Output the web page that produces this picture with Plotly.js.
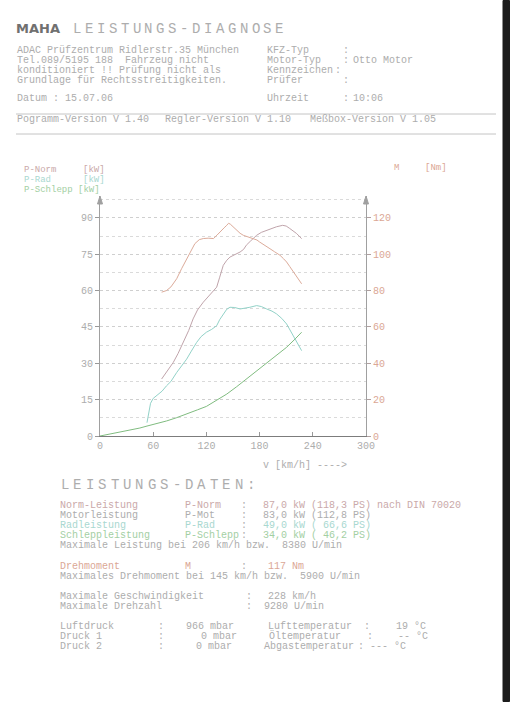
<!DOCTYPE html>
<html>
<head>
<meta charset="utf-8">
<script src="https://cdn.plot.ly/plotly-3.0.1.min.js"></script>
<style>html,body{margin:0;padding:0;background:#fff;overflow:hidden;}#chart{width:510px;height:702px;}</style>
</head>
<body>
<div id="chart"></div>
<script>
// ---- data ----
const xTickVals = [0, 60, 120, 180, 240, 300];
const xTickText = ['0', '60', '120', '180', '240', '300'];

const vNorm = [69.5, 76, 82.7, 88, 94, 100, 105, 110, 116.5, 122, 127, 131.6, 135, 139, 143, 146.6, 152, 158, 162, 165, 170, 176.7, 182, 188, 194, 199, 206, 210, 214, 218, 221.8, 227.4];
const pNorm = [23.5, 27, 30.4, 34, 38.6, 43.5, 48.3, 52, 55.2, 57.5, 59.5, 61.4, 65.5, 70.4, 72.5, 73.8, 74.8, 75.9, 77, 78.7, 80.5, 82.8, 84, 84.9, 85.8, 86.3, 86.9, 86.6, 85.6, 84.6, 83.5, 81.4];

const vRad = [53, 55, 57, 60, 64, 70, 75, 80, 86.5, 92, 97.7, 103, 109, 114, 120, 126, 131.6, 135, 139, 143, 146.6, 152, 158, 163, 169, 176.7, 182, 188, 194, 199, 205, 210.5, 214, 218, 222, 227.4];
const pRad = [5.5, 10, 13.5, 15.5, 16.6, 18.5, 20.7, 22.5, 26.2, 29, 31.7, 35, 38.6, 41, 42.8, 44, 45.5, 48, 50.4, 52.3, 53.1, 53, 52.4, 52.6, 53.1, 53.8, 53.4, 52.4, 51.5, 50.4, 48.5, 46.2, 44, 41.4, 38.6, 35.2];

const vSchlepp = [0, 15, 30, 45, 53, 65, 75, 86, 97.7, 110, 120, 132, 143, 154, 165, 177, 188, 199, 210.5, 220, 227.4];
const pSchlepp = [0, 1, 2.1, 3.3, 4.1, 5.2, 6.2, 7.5, 9.0, 10.8, 12.2, 14.7, 17.3, 20.3, 23.5, 27, 30.4, 33.5, 36.6, 40, 42.8];

const vTorque = [69.5, 75, 80, 86.5, 92, 97.7, 103, 107, 112, 116.5, 122, 128, 132, 135, 140, 143, 145, 147, 150, 154, 158, 161.6, 167, 172.9, 177, 180, 186, 191.7, 197, 203, 207, 210.5, 214, 218, 222, 227.4];
const mTorque = [79.1, 80, 82, 86.5, 92, 97.5, 102.5, 105.8, 108, 108.6, 108.8, 108.6, 110.5, 112.2, 114.5, 115.9, 117, 116.5, 115, 113.2, 111.5, 110.4, 109.5, 108.9, 107.8, 106.7, 105, 103, 101.3, 99.4, 97.5, 95.7, 93.2, 90.2, 87.2, 83.7];

// ---- styling helpers ----
const W = 510, H = 702;
const px = x => x / W;
const py = y => 1 - y / H;
const FONT = 'Liberation Mono, DejaVu Sans Mono, monospace';
const GRAY = '#adadad';
const PINK = '#caa9a9';
const SALMON = '#dba795';
const TEAL = '#a9d8d0';
const GREEN = '#a3cfa3';

const annotations = [];
function txt(x, y, text, color, size, extra) {
  annotations.push(Object.assign({
    xref: 'paper', yref: 'paper', x: px(x), y: py(y),
    xanchor: 'left', yanchor: 'middle', showarrow: false,
    borderpad: 0,
    text: text.replace(/ /g, '\u00a0'),
    font: {family: FONT, size: size || 10, color: color || GRAY}
  }, extra || {}));
}
function spaced(x, y, str, step, color, size) {
  for (let i = 0; i < str.length; i++) {
    if (str[i] !== ' ') txt(x + i * step, y, str[i], color, size);
  }
}

// header
annotations.push({xref:'paper', yref:'paper', x:px(15), y:py(28), xanchor:'left', yanchor:'middle', showarrow:false, borderpad:0,
  text:'MAHA', font:{family:'DejaVu Sans, sans-serif', size:13, color:'#707070', weight:700}});
spaced(72, 29, 'LEISTUNGS-DIAGNOSE', 11.9, GRAY, 14);

txt(16, 50, 'ADAC Prüfzentrum Ridlerstr.35 München');
txt(16, 60, 'Tel.089/5195 188  Fahrzeug nicht');
txt(16, 70, 'konditioniert !! Prüfung nicht als');
txt(16, 80, 'Grundlage für Rechtsstreitigkeiten.');
txt(266, 50, 'KFZ-Typ'); txt(342, 50, ':');
txt(266, 60, 'Motor-Typ'); txt(342, 60, ':'); txt(352, 60, 'Otto Motor');
txt(266, 70, 'Kennzeichen'); txt(334, 70, ':');
txt(266, 80, 'Prüfer'); txt(342, 80, ':');
txt(16, 99, 'Datum : 15.07.06');
txt(266, 99, 'Uhrzeit'); txt(342, 99, ':'); txt(352, 99, '10:06');
txt(16, 119, 'Pogramm-Version V 1.40');
txt(164, 119, 'Regler-Version V 1.10');
txt(309, 119, 'Meßbox-Version V 1.05');

// chart labels
txt(23, 170, 'P-Norm', PINK, 9); txt(82, 170, '[kW]', PINK, 9);
txt(23, 180, 'P-Rad', TEAL, 9); txt(82, 180, '[kW]', TEAL, 9);
txt(23, 190, 'P-Schlepp [kW]', GREEN, 9);
txt(393, 168, 'M', SALMON, 9); txt(424, 168, '[Nm]', SALMON, 9);
txt(262, 465, 'v [km/h] ---->');

// data block
spaced(60, 485, 'LEISTUNGS-DATEN:', 12.4, GRAY, 14);
const rows = [
  [505, 'Norm-Leistung', 'P-Norm', '87,0 kW (118,3 PS) nach DIN 70020', PINK],
  [515, 'Motorleistung', 'P-Mot', '83,0 kW (112,8 PS)', GRAY],
  [525, 'Radleistung', 'P-Rad', '49,0 kW ( 66,6 PS)', TEAL],
  [535, 'Schleppleistung', 'P-Schlepp', '34,0 kW ( 46,2 PS)', GREEN]
];
rows.forEach(r => {
  txt(59, r[0], r[1], r[4]);
  txt(184, r[0], r[2], r[4]);
  txt(240, r[0], ':', GRAY);
  txt(262, r[0], r[3], r[4]);
});
txt(59, 545, 'Maximale Leistung bei 206 km/h bzw.  8380 U/min');
txt(59, 566, 'Drehmoment', SALMON); txt(184, 566, 'M', SALMON); txt(240, 566, ':'); txt(267, 566, '117 Nm', SALMON);
txt(59, 576, 'Maximales Drehmoment bei 145 km/h bzw.  5900 U/min');
txt(59, 596, 'Maximale Geschwindigkeit'); txt(245, 596, ':'); txt(267, 596, '228 km/h');
txt(59, 606, 'Maximale Drehzahl'); txt(245, 606, ':'); txt(263, 606, '9280 U/min');
txt(59, 626, 'Luftdruck'); txt(157, 626, ':'); txt(185, 626, '966 mbar');
txt(267, 626, 'Lufttemperatur'); txt(363, 626, ':'); txt(395, 626, '19 °C');
txt(59, 636, 'Druck 1'); txt(157, 636, ':'); txt(200, 636, '0 mbar');
txt(268, 636, 'Öltemperatur'); txt(366, 636, ':'); txt(397, 636, '-- °C');
txt(59, 646, 'Druck 2'); txt(157, 646, ':'); txt(195, 646, '0 mbar');
txt(263, 646, 'Abgastemperatur'); txt(357, 646, ':'); txt(369, 646, '--- °C');

const shapes = [
  {type:'line', xref:'paper', yref:'paper', x0:px(16), x1:px(496), y0:py(114), y1:py(114), line:{color:'#c4c4c4', width:1}},
  {type:'line', xref:'paper', yref:'paper', x0:px(16), x1:px(496), y0:py(134), y1:py(134), line:{color:'#c4c4c4', width:1}},
  {type:'path', xref:'paper', yref:'paper', path:`M ${px(97.5)} ${py(204)} L ${px(100)} ${py(196)} L ${px(102.5)} ${py(204)} Z`, fillcolor:'#a0a0a0', line:{color:'#a0a0a0', width:1}},
  {type:'path', xref:'paper', yref:'paper', path:`M ${px(363.5)} ${py(204)} L ${px(366)} ${py(196)} L ${px(368.5)} ${py(204)} Z`, fillcolor:'#a0a0a0', line:{color:'#a0a0a0', width:1}},
  {type:'rect', xref:'paper', yref:'paper', x0:px(503), x1:px(509.5), y0:py(701.5), y1:py(0.5), fillcolor:'#1c1c1c', line:{color:'#1c1c1c', width:1}, layer:'above'}
];

const traces = [
  {x: vSchlepp, y: pSchlepp, type:'scatter', mode:'lines', name:'P-Schlepp', line:{color:'#80bc80', width:1}},
  {x: vRad, y: pRad, type:'scatter', mode:'lines', name:'P-Rad', line:{color:'#92d2c8', width:1}},
  {x: vNorm, y: pNorm, type:'scatter', mode:'lines', name:'P-Norm', line:{color:'#c0a4ab', width:1}},
  {x: vTorque, y: mTorque, type:'scatter', mode:'lines', name:'M', yaxis:'y2', line:{color:'#dcab9a', width:1}}
];

const layout = {
  width: W, height: H,
  margin: {l:0, r:0, t:0, b:0, pad:0},
  paper_bgcolor: '#ffffff', plot_bgcolor: '#ffffff',
  showlegend: false,
  font: {family: FONT, size: 10, color: GRAY},
  xaxis: {
    domain: [px(100), px(366)], range: [0, 300], anchor: 'y',
    tickmode: 'array', tickvals: xTickVals, ticktext: xTickText,
    ticks: 'inside', ticklen: 4, tickcolor: '#999999',
    showline: true, linecolor: '#7c7c7c', linewidth: 1,
    showgrid: false, zeroline: false,
    tickfont: {family: FONT, size: 10, color: GRAY}
  },
  yaxis: {
    domain: [py(436), py(196)], range: [0, 99],
    tickmode: 'linear', tick0: 0, dtick: 15,
    ticks: 'outside', ticklen: 4, tickcolor: '#999999',
    showline: true, linecolor: '#a0a0a0', linewidth: 1,
    showgrid: true, gridcolor: '#cfcfcf', griddash: 'dot', gridwidth: 1,
    minor: {tick0: 0, dtick: 7.5, showgrid: true, gridcolor: '#dadada', griddash: 'dot', ticks: ''},
    zeroline: false,
    tickfont: {family: FONT, size: 10, color: GRAY}
  },
  yaxis2: {
    overlaying: 'y', side: 'right', anchor: 'x', range: [0, 132],
    tickmode: 'linear', tick0: 0, dtick: 20,
    ticks: 'outside', ticklen: 4, tickcolor: '#b0a0a0',
    showline: true, linecolor: '#a0a0a0', linewidth: 1,
    showgrid: false, zeroline: false,
    tickfont: {family: FONT, size: 10, color: SALMON}
  },
  annotations: annotations,
  shapes: shapes
};

Plotly.newPlot('chart', traces, layout, {staticPlot: true, displayModeBar: false});
</script>
</body>
</html>
